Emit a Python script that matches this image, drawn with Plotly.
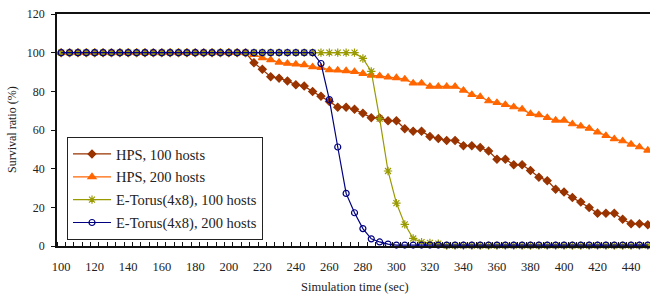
import plotly.graph_objects as go

times = list(range(100, 455, 5))

hps_100 = [100]*23 + [94.8, 91.4, 87.6, 86.8, 85.4, 83.4, 82.7, 79.9, 77.5, 74.8,
                      71.8, 71.8, 70.7, 68.6, 66.4, 66.2, 64.8, 64.8, 60.7, 59.4,
                      59.4, 56.7, 55.6, 54.6, 54.6, 51.9, 51.9, 50.9, 49.1, 44.9,
                      44.9, 42.0, 42.0, 39.1, 35.6, 33.8, 29.4, 27.9, 25.1, 22.7,
                      19.9, 16.9, 16.9, 16.9, 13.8, 11.5, 11.5, 11.0]
hps_200 = [100]*23 + [99.0, 97.3, 96.3, 95.0, 94.4, 94.0, 93.7, 92.6, 92.3, 91.1,
                      90.9, 90.6, 90.2, 89.2, 88.3, 88.0, 87.3, 87.0, 86.3, 84.2,
                      84.2, 82.5, 82.5, 82.5, 82.5, 80.5, 78.3, 77.2, 75.0, 74.1,
                      73.1, 71.9, 70.8, 68.4, 67.8, 66.4, 65.0, 65.0, 63.1, 62.0,
                      60.8, 58.9, 57.1, 55.4, 54.3, 52.6, 51.2, 49.5]
etorus_100 = [100]*36 + [97.0, 90.3, 65.9, 38.8, 22.2, 11.2, 3.9, 2.0, 1.6, 1.2] + [0.2]*25
etorus_200 = [100]*31 + [94.4, 75.7, 51.2, 27.2, 17.2, 9.0, 3.7, 2.1, 1.0] + [0.5]*31

series_names = ["HPS, 100 hosts", "HPS, 200 hosts", "E-Torus(4x8), 100 hosts", "E-Torus(4x8), 200 hosts"]
x_tick_labels = list(range(100, 460, 20))[:18]
y_tick_labels = list(range(0, 140, 20))

FONT = "Liberation Serif"
TXT = "#222"

W, H = 650, 298
plot_l, plot_r, plot_t, plot_b = 57, 650, 14, 246

def px_to_paper(px, py):
    return (px - plot_l) / (plot_r - plot_l), (plot_b - py) / (plot_b - plot_t)

fig = go.Figure()
styles = [
    dict(color="#993300", symbol="diamond", size=6, lw=1.3),
    dict(color="#FF6600", symbol="triangle-up", size=7, lw=1.3),
    dict(color="#999900", symbol="asterisk-open", size=7, lw=1.2),
    dict(color="#000080", symbol="circle-open", size=6, lw=1.2),
]
for i, (name, vals, st) in enumerate(zip(series_names, [hps_100, hps_200, etorus_100, etorus_200], styles)):
    fig.add_trace(go.Scatter(
        x=times, y=vals, name=name, mode="lines+markers", legendgroup=f"g{i}",
        line=dict(color=st["color"], width=st["lw"]),
        marker=dict(symbol=st["symbol"], size=st["size"], color=st["color"],
                    line=dict(color=st["color"], width=1.2)),
        cliponaxis=False,
    ))

lx, ly = px_to_paper(67, 137)
ax, ay = px_to_paper(355, 286.5)
bx, by = px_to_paper(12, 130)

fig.update_layout(
    width=W, height=H,
    margin=dict(l=plot_l, r=W - plot_r, t=plot_t, b=H - plot_b, autoexpand=False),
    paper_bgcolor="white", plot_bgcolor="white",
    font=dict(family=FONT, size=12, color=TXT),
    showlegend=True,
    legend=dict(x=lx, y=ly, xanchor="left", yanchor="top",
                bordercolor="#222", borderwidth=1, bgcolor="white",
                font=dict(family=FONT, size=14.5, color=TXT),
                tracegroupgap=1, traceorder="grouped", itemwidth=38),
    xaxis=dict(range=[97.5, 451.3], tickvals=x_tick_labels, ticktext=[str(v) for v in x_tick_labels],
               ticks="", showline=True, linecolor="#111", linewidth=1.5, mirror=True,
               showgrid=False, zeroline=False, ticklabelstandoff=8, automargin=False,
               minor=dict(tick0=97.5, dtick=5, ticks="inside", ticklen=4, tickcolor="#111", tickwidth=1, showgrid=False),
               tickfont=dict(family=FONT, size=12.5, color=TXT)),
    yaxis=dict(range=[0, 120], tickvals=y_tick_labels, ticks="outside", ticklen=4, tickcolor="#111",
               showline=True, linecolor="#111", linewidth=1.5, showgrid=False, zeroline=False,
               ticklabelstandoff=4, automargin=False,
               tickfont=dict(family=FONT, size=12, color=TXT)),
    annotations=[
        dict(text="Simulation time (sec)", x=ax, xref="paper", y=ay, yref="paper", showarrow=False,
             font=dict(family=FONT, size=12.5, color=TXT), xanchor="center", yanchor="middle"),
        dict(text="Survival ratio (%)", x=bx, xref="paper", y=by, yref="paper", showarrow=False, textangle=-90,
             font=dict(family=FONT, size=12, color=TXT), xanchor="center", yanchor="middle"),
    ],
)

# remove the browser's default 8px body margin so the figure fills the window
fig.write_html("out.html", config={"displayModeBar": False},
               post_script="document.body.style.margin='0';document.body.style.padding='0';")
